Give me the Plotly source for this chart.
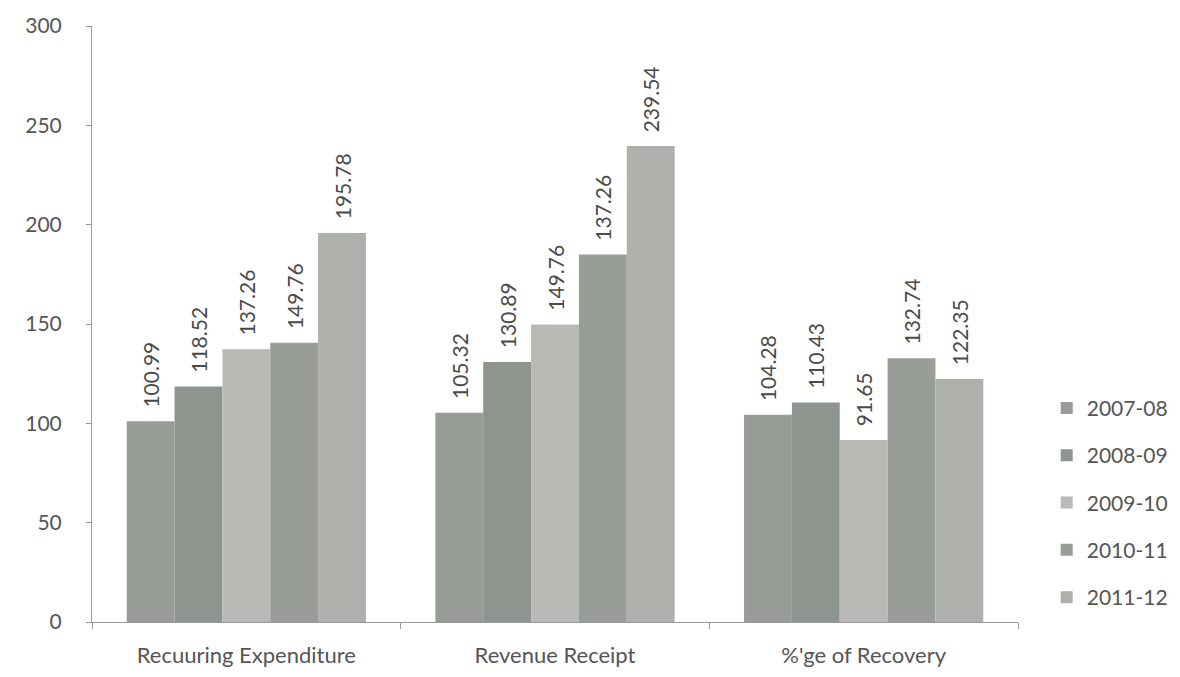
import plotly.graph_objects as go

categories = ["Recuuring Expenditure", "Revenue Receipt", "%'ge of Recovery"]
years = ["2007-08", "2008-09", "2009-10", "2010-11", "2011-12"]

# bar heights as drawn
heights = {
    "2007-08": [100.99, 105.32, 104.28],
    "2008-09": [118.52, 130.89, 110.43],
    "2009-10": [137.26, 149.76, 91.65],
    "2010-11": [140.5, 185.0, 132.74],
    "2011-12": [195.78, 239.54, 122.35],
}
# data labels as printed
labels = {
    "2007-08": ["100.99", "105.32", "104.28"],
    "2008-09": ["118.52", "130.89", "110.43"],
    "2009-10": ["137.26", "149.76", "91.65"],
    "2010-11": ["149.76", "137.26", "132.74"],
    "2011-12": ["195.78", "239.54", "122.35"],
}
colors = {
    "2007-08": "#979c97",
    "2008-09": "#8e948e",
    "2009-10": "#b9bab6",
    "2010-11": "#989d97",
    "2011-12": "#aeb0ab",
}
y_ticks = [0, 50, 100, 150, 200, 250, 300]

FONT = "Lato"
TXT = "#555555"

fig = go.Figure()
for yr in years:
    fig.add_trace(go.Bar(
        x=categories, y=heights[yr], name=yr,
        marker=dict(color=colors[yr], line=dict(width=0)),
        text=labels[yr], texttemplate="\u00a0\u00a0%{text}",
        textposition="outside", textangle=-90, constraintext="none",
        cliponaxis=False,
        outsidetextfont=dict(family=FONT, size=21, color="#4a4a4a"),
        legendgroup=yr,
    ))

fig.update_layout(
    width=1180, height=677,
    barmode="group", bargap=0.225, bargroupgap=0,
    paper_bgcolor="white", plot_bgcolor="white",
    margin=dict(l=84, r=170, t=18, b=63, autoexpand=False),
    font=dict(family=FONT, color=TXT),
    legend=dict(x=1.031, xanchor="left", y=0.2, yanchor="middle",
                font=dict(size=21, color=TXT), tracegroupgap=17,
                itemsizing="constant"),
    xaxis=dict(showline=True, linecolor="#9a9a9a", linewidth=1,
               ticks="outside", tickson="boundaries", ticklen=6,
               tickcolor="#9a9a9a", tickfont=dict(size=22, color=TXT),
               ticklabelstandoff=14, showgrid=False, automargin=False),
    yaxis=dict(range=[0, 300], tickvals=y_ticks, showline=True,
               linecolor="#9a9a9a", linewidth=1, ticks="outside",
               ticklen=5, tickcolor="#9a9a9a", showgrid=False,
               zeroline=False, tickfont=dict(size=21, color=TXT),
               ticklabelstandoff=20, automargin=False),
)

fig.write_html("out.html")
